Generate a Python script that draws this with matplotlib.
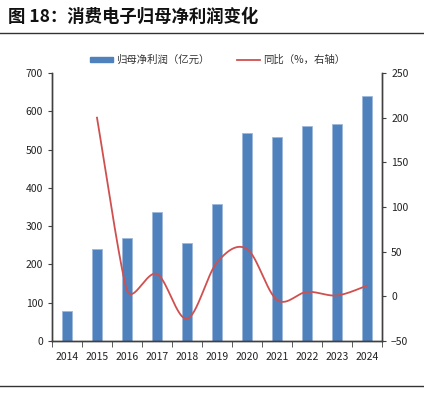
import numpy as np
import matplotlib
matplotlib.use("Agg")
import matplotlib.pyplot as plt
from matplotlib.lines import Line2D
from matplotlib.patches import Patch

plt.rcParams['font.family'] = ['Noto Sans CJK SC', 'DejaVu Sans']
plt.rcParams['axes.unicode_minus'] = True

# ── 数据 ─────────────────────────────────────────────
years = ["2014", "2015", "2016", "2017", "2018", "2019",
         "2020", "2021", "2022", "2023", "2024"]
profit = [78, 241, 269, 338, 256, 358, 543, 533, 561, 567, 640]       # 亿元
yoy = [None, 200, 7, 25, -25, 38, 53, -4, 5, 1, 12]                 # %
left_ticks = [0, 100, 200, 300, 400, 500, 600, 700]
right_ticks = [-50, 0, 50, 100, 150, 200, 250]

BAR_C = '#4F81BD'
LINE_C = '#D0504F'
AX_C = '#404040'

# 像素比例（x: 每类 30px，y: 每单位 0.893px），用于平滑线控制点限幅
SX, SY = 30.0, 0.893


def smooth(xs, ys, n=30):
    # 类 Excel 平滑线：Bezier，控制点长度限幅
    P = np.column_stack([np.asarray(xs, float) * SX, np.asarray(ys, float) * SY])
    k = len(P)
    handles = []
    for i in range(k):
        a = P[max(i - 1, 0)]
        b = P[min(i + 1, k - 1)]
        h = (b - a) / 6.0
        segs = []
        if i > 0:
            segs.append(np.linalg.norm(P[i] - P[i - 1]))
        if i < k - 1:
            segs.append(np.linalg.norm(P[i + 1] - P[i]))
        lim = 0.5 * min(segs)
        L = np.linalg.norm(h)
        if L > lim:
            h = h * lim / L
        handles.append(h)
    t = np.linspace(0, 1, n)[:, None]
    out = []
    for i in range(k - 1):
        p0, p3 = P[i], P[i + 1]
        p1, p2 = p0 + handles[i], p3 - handles[i + 1]
        out.append((1 - t) ** 3 * p0 + 3 * (1 - t) ** 2 * t * p1
                   + 3 * (1 - t) * t ** 2 * p2 + t ** 3 * p3)
    out = np.vstack(out)
    return out[:, 0] / SX, out[:, 1] / SY


fig = plt.figure(figsize=(4.24, 3.98), dpi=100)
ax = fig.add_axes([0.1226, 0.1432, 0.7784, 0.6734])

x = np.arange(len(years))
ax.bar(x, profit, width=0.33, color=BAR_C, edgecolor='#9DB9DC', linewidth=0.6, zorder=2)
ax.set_xlim(-0.5, len(years) - 0.5)
ax.set_ylim(0, 700)
ax.set_yticks(left_ticks)
ax.set_xticks(x)
ax.set_xticklabels(years)
ax.set_xticks(np.arange(-0.5, len(years), 1), minor=True)
ax.tick_params(axis='x', which='major', length=0, labelsize=7.5, pad=8, colors='#222222')
ax.tick_params(axis='x', which='minor', length=4, direction='out', color=AX_C)
ax.tick_params(axis='y', length=3, direction='out', labelsize=7.5, color=AX_C, labelcolor='#222222')

ax2 = ax.twinx()
xi = [i for i, v in enumerate(yoy) if v is not None]
yi = [v for v in yoy if v is not None]
sx, sy = smooth(xi, yi)
ax2.plot(sx, sy, color=LINE_C, lw=1.3, zorder=3)
ax2.set_ylim(-50, 250)
ax2.set_yticks(right_ticks)
ax2.tick_params(axis='y', length=3, direction='out', labelsize=7.5, color=AX_C, labelcolor='#222222')

for a in (ax, ax2):
    a.spines['top'].set_visible(False)
    for s in ('left', 'right', 'bottom'):
        a.spines[s].set_color(AX_C)
        a.spines[s].set_linewidth(1.0)

# 图例
handles = [Patch(color=BAR_C, label='归母净利润（亿元）'),
           Line2D([], [], color=LINE_C, lw=1.3, label='同比（%，右轴）')]
fig.legend(handles=handles, loc='center', bbox_to_anchor=(0.513, 0.849), ncol=2,
           frameon=False, fontsize=7.5, handlelength=2.2, handleheight=0.5,
           columnspacing=2.6, handletextpad=0.3, labelcolor='#333333')

# 标题与分隔线
fig.text(0.02, 0.957, '图 18：消费电子归母净利润变化', fontsize=12.5, fontweight='bold',
         va='center', ha='left', color='#111111')
fig.add_artist(Line2D([0, 1], [0.917, 0.917], color='#333333', lw=1.0))
fig.add_artist(Line2D([0, 1], [0.03, 0.03], color='#333333', lw=1.0))

fig.savefig('out.png', dpi=100)
